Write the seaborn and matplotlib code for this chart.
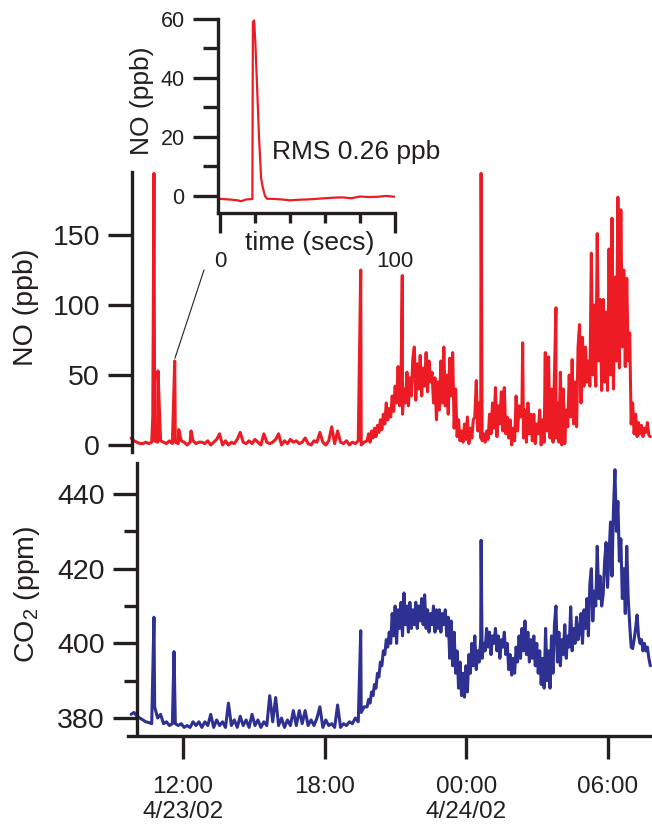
import numpy as np
import pandas as pd
import matplotlib.pyplot as plt
import seaborn as sns

# time axis: hours after 00:00 on 4/23/02
# quiet part read every 7.5 min, busy part (from 19:48) every 3.75 min
hours = np.concatenate([9.8 + 0.125 * np.arange(80), 19.8 + 0.0625 * np.arange(193)])

no_ppb = [
    5, 3, 2, 1, 1, 2, 1, 2,          # 9.8
    3, 2, 3, 2, 1, 3, 1, 2,          # 10.8
    1, 3, 2, 0, 2, 3, 1, 2,          # 11.8
    2, 1, 3, 0, 2, 4, 8, 0,          # 12.8
    3, 0, 2, 1, 4, 9, 2, 1,          # 13.8
    3, 1, 4, 2, 0, 8, 2, 1,          # 14.8
    2, 4, 8, 0, 3, 1, 4, 2,          # 15.8
    3, 1, 2, 5, 1, 0, 3, 2,          # 16.8
    9, 2, 0, 3, 13, 1, 10, 2,        # 17.8
    1, 3, 0, 2, 1, 3, 0, 2,          # 18.8
    3, 8, 2, 10, 5, 12, 6, 14, 9, 18, 11, 22, 15, 30, 18, 26,            # 19.8
    20, 35, 24, 42, 30, 56, 28, 45, 22, 40, 30, 52, 28, 48, 35, 62,      # 20.8
    70, 32, 58, 40, 64, 35, 55, 42, 66, 38, 60, 45, 52, 30, 48, 18,      # 21.8
    45, 25, 60, 30, 70, 28, 50, 22, 62, 35, 66, 12, 40, 6, 18, 3,        # 22.8
    10, 2, 15, 4, 20, 1, 12, 5, 18, 20, 46, 10, 30, 5, 3, 8,             # 23.8
    2, 10, 4, 22, 8, 30, 12, 41, 6, 28, 15, 38, 10, 41, 8, 20,           # 24.8
    5, 18, 0, 12, 3, 35, 10, 28, 20, 30, 5, 25, 2, 30, 8, 22,            # 25.8
    3, 22, 1, 15, 8, 25, 0, 18, 2, 30, 10, 63, 5, 40, 2, 51,             # 26.8
    5, 30, 2, 52, 0, 40, 1, 25, 13, 50, 20, 61, 15, 45, 13, 70,          # 27.8
    86, 30, 77, 42, 70, 45, 60, 42, 137, 50, 100, 42, 151, 60, 104, 39,  # 28.8
    104, 45, 95, 39, 140, 50, 162, 40, 120, 60, 177, 55, 168, 70, 125, 56,  # 29.8
    119, 60, 80, 15, 30, 8, 22, 6, 16, 8, 14, 6, 12, 9, 16, 7,           # 30.8
    6,
]
no_spike_hours = [10.72, 10.77, 10.94, 11.65, 11.82, 12.34, 19.53, 21.29, 24.63, 26.39, 27.35, 27.8]
no_spike_ppb = [20, 194, 53, 60, 11, 10, 125, 121, 194, 73, 66, 98]

co2_ppm = [
    381, 381.5, 380.5, 380, 379.5, 379, 378.8, 378.5,     # 9.8
    383, 380, 381, 378.5, 379, 378, 378.5, 378.5,         # 10.8
    378, 378.5, 377.5, 378, 377.5, 379, 378, 379,         # 11.8
    377.5, 379, 378, 381, 377.5, 379.5, 378, 379,         # 12.8
    377.5, 384, 378, 379.5, 377.5, 380.5, 378, 379.5,     # 13.8
    377.5, 381, 378, 379.5, 377.5, 379, 378, 386,         # 14.8
    379, 385.5, 378, 380, 377.5, 379.5, 378, 382,         # 15.8
    378, 382, 378.5, 382, 378, 379.5, 378, 380,           # 16.8
    383, 377.5, 379.5, 378, 378.5, 377.5, 383.5, 377.5,   # 17.8
    378.5, 378, 379, 378.5, 380, 379, 381.5, 383,         # 18.8
    383, 385, 384, 387, 386, 389, 388, 392, 391, 395, 394, 398, 397, 401, 399, 403,            # 19.8
    400, 408, 402, 410, 400, 409, 404, 411, 402, 413.5, 405, 410, 403, 411, 404, 409,         # 20.8
    405, 411, 404, 410, 406, 412, 405, 413, 404, 409, 403, 408, 405, 410, 403, 409,           # 21.8
    404, 409, 403, 408, 405, 409, 402, 407, 396, 406, 394, 403, 392, 398, 388, 395,           # 22.8
    386, 392, 385.6, 394, 387, 397, 392, 400, 394, 402, 393, 398, 395, 401, 396, 400,         # 23.8
    398, 404, 399, 403, 397, 402, 400, 404, 398, 402, 396, 401, 399, 403, 397, 400,           # 24.8
    393, 397, 391.5, 396, 392, 399, 395, 402, 396, 404, 398, 406, 397, 403, 395, 401,         # 25.8
    396, 402, 394, 400, 392, 398, 389, 396, 388, 404, 390, 398, 388, 402, 392, 405,           # 26.8
    410, 395, 403, 394, 401, 397, 405, 396, 402, 399, 409.8, 398, 404, 400, 407, 401,         # 27.8
    403, 408, 400, 409, 404, 412, 402, 416, 420, 406, 414, 410, 426, 412, 418, 410,           # 28.8
    413, 422, 427, 415, 424, 432.5, 418, 436, 446.5, 430, 438, 422, 428, 412, 420, 408,       # 29.8
    426, 412, 405, 399, 398.6, 401, 404, 407.6, 402, 400, 401, 398, 400, 398, 399, 396,       # 30.8
    394,
]
co2_spike_hours = [10.77, 11.62, 19.53, 24.63]
co2_spike_ppm = [407, 397.8, 403.4, 427.6]

# inset: zoom on the 11:40 plume, seconds
inset_secs = [0, 5, 10, 12, 15, 18, 18.5, 18.8, 19.5, 20.2, 21, 22.3, 23.5, 24.4, 25.7, 27,
              30, 35, 40, 45, 50, 55, 60, 65, 70, 75, 80, 85, 90, 95, 100]
inset_no = [-1, -1.2, -1.5, -1.8, -1.2, -1.1, -1, 59, 59.5, 52, 40, 20, 6, 3, 0, -1,
            -1, -1.2, -1.5, -1.3, -1.2, -1, -0.8, -0.6, -0.5, -0.8, -0.2, -0.4, -0.3, 0, -0.3]

time_ticks = [12, 18, 24, 30]
time_labels = ['12:00\n4/23/02', '18:00', '00:00\n4/24/02', '06:00']

RED = '#ED1C24'
BLUE = '#2E3192'
INK = '#231F20'

sns.set_style('ticks')
plt.rcParams['font.family'] = ['Liberation Sans', 'DejaVu Sans']
plt.rcParams['mathtext.fontset'] = 'custom'
plt.rcParams['mathtext.rm'] = 'Liberation Sans'
plt.rcParams['mathtext.it'] = 'Liberation Sans'
plt.rcParams['text.color'] = INK
plt.rcParams['axes.labelcolor'] = INK

no_df = pd.DataFrame({'h': list(hours) + no_spike_hours, 'no': no_ppb + no_spike_ppb}).sort_values('h')
co2_df = pd.DataFrame({'h': list(hours) + co2_spike_hours, 'co2': co2_ppm + co2_spike_ppm}).sort_values('h')
inset_df = pd.DataFrame({'t': inset_secs, 'no': inset_no})

fig = plt.figure(figsize=(6.52, 8.27), dpi=100)
ax_no = fig.add_axes([128 / 652, 1 - 452 / 827, 524 / 652, 280 / 827])
ax_co2 = fig.add_axes([128 / 652, 1 - 736 / 827, 524 / 652, 273 / 827])
ax_in = fig.add_axes([218 / 652, 1 - 213 / 827, 177 / 652, 194 / 827])

xlim = (9.67, 31.87)

# NO panel
sns.lineplot(data=no_df, x='h', y='no', ax=ax_no, color=RED, lw=2.2,
             estimator=None, sort=False)
ax_no.set_xlim(xlim)
ax_no.set_ylim(-5, 195)
ax_no.set_yticks([0, 50, 100, 150])
for s in ['top', 'right', 'bottom']:
    ax_no.spines[s].set_visible(False)
ax_no.spines['left'].set_position(('axes', 0.0076))
ax_no.tick_params(axis='x', bottom=False, labelbottom=False)
ax_no.set_xlabel('')
ax_no.set_ylabel('NO (ppb)', fontsize=20.5, va='center')
ax_no.yaxis.set_label_coords(-0.195, 0.518)
ax_no.annotate('', xy=(11.66, 62), xytext=(12.89, 125),
               arrowprops=dict(arrowstyle='-', color=INK, lw=0.8, shrinkA=0, shrinkB=0))

# CO2 panel
sns.lineplot(data=co2_df, x='h', y='co2', ax=ax_co2, color=BLUE, lw=2.2,
             estimator=None, sort=False)
ax_co2.set_xlim(xlim)
ax_co2.set_ylim(375.2, 448.3)
ax_co2.set_yticks([380, 400, 420, 440])
ax_co2.set_yticks([390, 410, 430], minor=True)
ax_co2.set_xticks(time_ticks)
ax_co2.set_xticklabels(time_labels)
for s in ['top', 'right']:
    ax_co2.spines[s].set_visible(False)
ax_co2.spines['left'].set_position(('axes', 0.017))
ax_co2.spines['left'].set_bounds(376, 448.3)
ax_co2.set_xlabel('')
ax_co2.set_ylabel('CO$_2$ (ppm)', fontsize=20.5, va='center')
ax_co2.yaxis.set_label_coords(-0.193, 0.52)

for ax in (ax_no, ax_co2):
    ax.set_facecolor('none')
    for s in ax.spines.values():
        s.set_linewidth(2.4)
        s.set_color(INK)
    ax.tick_params(axis='y', which='major', direction='out', length=17, width=2.4,
                   labelsize=20.5, pad=6, colors=INK)
    ax.tick_params(axis='y', which='minor', direction='out', length=9.5, width=2.4, colors=INK)
ax_co2.tick_params(axis='x', which='major', direction='out', length=16.5, width=2.4,
                   labelsize=17.5, pad=12, colors=INK)

# inset
sns.lineplot(data=inset_df, x='t', y='no', ax=ax_in, color=RED, lw=1.6,
             estimator=None, sort=False)
ax_in.set_xlim(-1.14, 100)
ax_in.set_ylim(-5.8, 60)
ax_in.set_xticks([0, 100])
ax_in.set_xticks([20, 40, 60, 80], minor=True)
ax_in.set_yticks([0, 20, 40, 60])
ax_in.set_yticks([10, 30, 50], minor=True)
ax_in.set_facecolor('none')
for s in ['top', 'right']:
    ax_in.spines[s].set_visible(False)
for s in ['left', 'bottom']:
    ax_in.spines[s].set_linewidth(2.4)
    ax_in.spines[s].set_color(INK)
ax_in.tick_params(axis='y', which='major', direction='out', length=18, width=2.4,
                  labelsize=15.5, pad=6, colors=INK)
ax_in.tick_params(axis='y', which='minor', direction='out', length=10.5, width=2.4, colors=INK)
ax_in.tick_params(axis='x', which='major', direction='out', length=14.5, width=2.4,
                  labelsize=16, pad=13, colors=INK)
ax_in.tick_params(axis='x', which='minor', direction='out', length=7.5, width=2.4, colors=INK)
ax_in.set_ylabel('NO (ppb)', fontsize=19, va='center')
ax_in.yaxis.set_label_coords(-0.43, 0.577)
ax_in.set_xlabel('time (secs)', fontsize=19, va='center')
ax_in.xaxis.set_label_coords(0.52, -0.155)
ax_in.text(29.7, 12.4, 'RMS 0.26 ppb', fontsize=19, va='baseline', ha='left', color=INK)

fig.savefig('out.png', dpi=100)
